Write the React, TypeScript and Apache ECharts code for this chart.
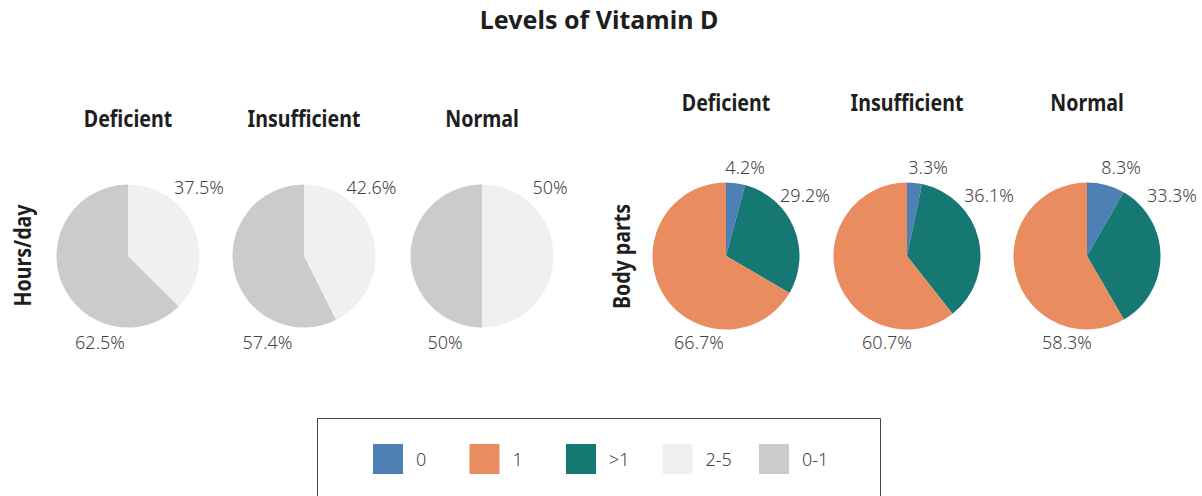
import React, { useEffect, useRef } from 'react';
import * as echarts from 'echarts';

// ---- data ----
const levels = ['Deficient', 'Insufficient', 'Normal'];
const hoursCategories = ['2-5', '0-1'];
const hoursDeficient = [37.5, 62.5];
const hoursInsufficient = [42.6, 57.4];
const hoursNormal = [50, 50];
const bodyCategories = ['0', '>1', '1'];
const bodyDeficient = [4.2, 29.2, 66.7];
const bodyInsufficient = [3.3, 36.1, 60.7];
const bodyNormal = [8.3, 33.3, 58.3];
const legendOrder = ['0', '1', '>1', '2-5', '0-1'];
const groupTitles = ['Hours/day', 'Body parts'];
const mainTitle = 'Levels of Vitamin D';

// ---- styles / layout ----
const colorMap: Record<string, string> = {
  '0': '#4e7fb5',
  '1': '#e98c60',
  '>1': '#167873',
  '2-5': '#eff0ef',
  '0-1': '#cacbca',
};
const FONT = '"Noto Sans", "Open Sans", sans-serif';
const leftX = [128, 304, 482];
const rightX = [726, 907, 1087];
const pieY = 256;
const leftR = 71.5;
const rightR = 73.5;
const leftLabelOffsets = [
  [[71, -69], [-28, 86]],
  [[67.5, -69], [-36.5, 86]],
  [[68, -69], [-37, 86]],
];
const rightLabelOffsets = [
  [[19, -89], [79, -61], [-27, 86]],
  [[21, -89], [82, -61], [-20, 86]],
  [[34, -89], [85, -61], [-20, 86]],
];
const legendStartX = 373;
const legendStep = 96.5;
const legendTop = 444;
const narrow = 0.875; // semi-condensed look of the headings

export default function App() {
  const ref = useRef<HTMLDivElement>(null);
  useEffect(() => {
    if (!ref.current) return;
    const chart = echarts.init(ref.current, undefined, { renderer: 'svg' });

    const hoursSets = [hoursDeficient, hoursInsufficient, hoursNormal];
    const bodySets = [bodyDeficient, bodyInsufficient, bodyNormal];

    const meta: { cx: number; cy: number; offsets: number[][] }[] = [];
    const series: any[] = [];
    const mk = (cats: string[], vals: number[], cx: number, r: number, offsets: number[][]) => {
      meta.push({ cx, cy: pieY, offsets });
      series.push({
        type: 'pie',
        center: [cx, pieY],
        radius: r,
        startAngle: 90,
        clockwise: true,
        silent: true,
        avoidLabelOverlap: false,
        data: cats.map((c, i) => ({ name: c, value: vals[i], itemStyle: { color: colorMap[c] } })),
        itemStyle: { borderWidth: 0 },
        label: {
          show: true,
          position: 'outside',
          formatter: (p: any) => `${p.value}%`,
          fontFamily: FONT,
          fontSize: 18,
          fontWeight: 300,
          color: '#444',
        },
        labelLine: { show: false },
        emphasis: { disabled: true },
        labelLayout: (p: any) => {
          const m = meta[p.seriesIndex];
          const o = m.offsets[p.dataIndex];
          return { x: m.cx + o[0], y: m.cy + o[1], align: 'center', verticalAlign: 'middle' };
        },
      });
    };
    hoursSets.forEach((v, i) => mk(hoursCategories, v, leftX[i], leftR, leftLabelOffsets[i]));
    bodySets.forEach((v, i) => mk(bodyCategories, v, rightX[i], rightR, rightLabelOffsets[i]));

    const boldText = (text: string, x: number, y: number, size: number, rotation = 0, scaleX = 1) => ({
      type: 'text',
      x,
      y,
      rotation,
      scaleX,
      silent: true,
      style: {
        text,
        fontFamily: FONT,
        fontSize: size,
        fontWeight: 'bold',
        fill: '#1e1e1e',
        align: 'center',
        verticalAlign: 'middle',
      },
    });

    const graphics: any[] = [];
    graphics.push(boldText(mainTitle, 599, 19, 25));
    levels.forEach((l, i) => graphics.push(boldText(l, leftX[i], 118, 22.4, 0, narrow)));
    levels.forEach((l, i) => graphics.push(boldText(l, rightX[i], 102, 22.4, 0, narrow)));
    graphics.push(boldText(groupTitles[0], 22.5, 255.5, 22.4, Math.PI / 2, narrow));
    graphics.push(boldText(groupTitles[1], 621.5, 256.5, 22.4, Math.PI / 2, narrow));
    graphics.push({
      type: 'rect',
      silent: true,
      shape: { x: 317.5, y: 418.5, width: 563, height: 120 },
      style: { fill: 'none', stroke: '#444', lineWidth: 1 },
    });

    const legends = legendOrder.map((name, i) => ({
      data: [name],
      left: legendStartX + i * legendStep,
      top: legendTop,
      orient: 'horizontal',
      icon: 'rect',
      itemWidth: 30,
      itemHeight: 30,
      padding: 0,
      selectedMode: false,
      textStyle: { fontFamily: FONT, fontSize: 18, fontWeight: 300, color: '#444', padding: [0, 0, 0, 8] },
    }));

    chart.setOption({
      animation: false,
      backgroundColor: '#fff',
      legend: legends,
      graphic: graphics,
      series,
    });
    return () => chart.dispose();
  }, []);
  return (
    <div style={{ position: 'fixed', left: 0, top: 0, width: 1202, height: 496, background: '#fff' }}>
      <div ref={ref} style={{ width: 1202, height: 496 }} />
    </div>
  );
}
